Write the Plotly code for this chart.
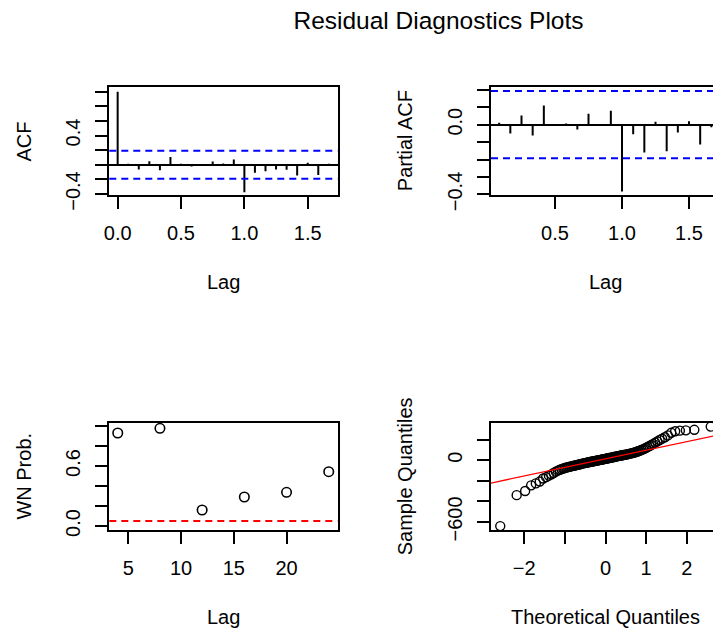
import math
from statistics import NormalDist
import numpy as np
import plotly.graph_objects as go

# ---------------- data ----------------
season_freq = 12
n_obs = 104

acf_lag_index = list(range(0, 21))
acf_values = [1.0, 0.014, -0.064, 0.05, -0.074, 0.106, 0.014, -0.023, -0.018, 0.046,
              0.018, 0.074, -0.375, -0.11, -0.087, -0.064, -0.069, -0.147, 0.028, -0.14, 0.014]

pacf_lag_index = list(range(1, 21))
pacf_values = [0.011, -0.051, 0.053, -0.0625, 0.11, -0.003, 0.006, -0.028, 0.0625, -0.004,
               0.08, -0.383, -0.055, -0.159, 0.017, -0.153, -0.045, 0.019, -0.114, -0.015]

wn_lags = [4, 8, 12, 16, 20, 24]
wn_pvalues = [0.93, 0.977, 0.16, 0.29, 0.337, 0.543]
wn_alpha = 0.05

qq_sample_sorted = [
    -640, -340, -300, -245, -226, -208, -178, -165, -150, -138,
    -125, -112, -102, -94, -88, -82, -77, -72, -68, -64,
    -61, -58, -55, -52, -49, -46, -43, -40, -37, -34,
    -32, -29, -27, -24, -22, -20, -18, -16, -14, -12,
    -10, -8, -6, -4, -2, 0, 2, 4, 6, 8,
    10, 12, 14, 16, 18, 20, 22, 24, 26, 28,
    30, 32, 34, 36, 39, 41, 43, 45, 47, 49,
    51, 53, 55, 58, 60, 63, 65, 68, 71, 75,
    79, 83, 88, 93, 99, 105, 112, 120, 128, 137,
    147, 158, 170, 182, 195, 208, 222, 240, 265, 280,
    286, 289, 294, 325,
]

acf_yticks = [-0.4, -0.2, 0.0, 0.2, 0.4, 0.6, 0.8, 1.0]
acf_ytext = ["\u22120.4", "", "", "", "0.4", "", "", ""]
acf_xticks = [0.0, 0.5, 1.0, 1.5]
acf_xtext = ["0.0", "0.5", "1.0", "1.5"]
pacf_yticks = [-0.4, -0.3, -0.2, -0.1, 0.0, 0.1, 0.2]
pacf_ytext = ["\u22120.4", "", "", "", "0.0", "", ""]
pacf_xticks = [0.5, 1.0, 1.5]
pacf_xtext = ["0.5", "1.0", "1.5"]
wn_yticks = [0.0, 0.2, 0.4, 0.6, 0.8, 1.0]
wn_ytext = ["0.0", "", "", "0.6", "", ""]
wn_xticks = [5, 10, 15, 20]
wn_xtext = ["5", "10", "15", "20"]
qq_yticks = [-600, -400, -200, 0, 200]
qq_ytext = ["\u2212600", "", "", "0", ""]
qq_xticks = [-2, -1, 0, 1, 2]
qq_xtext = ["\u22122", "", "0", "1", "2"]

# ---------------- derived ----------------
ci = 1.96 / math.sqrt(n_obs)
acf_lags = [k / season_freq for k in acf_lag_index]
pacf_lags = [k / season_freq for k in pacf_lag_index]

n_qq = len(qq_sample_sorted)
nd = NormalDist()
qq_theoretical = [nd.inv_cdf((i - 0.5) / n_qq) for i in range(1, n_qq + 1)]
q1, q3 = np.quantile(qq_sample_sorted, [0.25, 0.75])
z1, z3 = nd.inv_cdf(0.25), nd.inv_cdf(0.75)
qq_slope = (q3 - q1) / (z3 - z1)
qq_int = q1 - qq_slope * z1
qq_line_x = [-3.0, 3.0]
qq_line_y = [qq_int + qq_slope * v for v in qq_line_x]


def stems(xs, ys):
    sx, sy = [], []
    for a, b in zip(xs, ys):
        sx += [a, a, None]
        sy += [0, b, None]
    return sx, sy


W, H = 713, 629
FONT = "Liberation Sans, Arial, sans-serif"


def px_x(p):
    return p / W


def px_y(p):
    return 1 - p / H


fig = go.Figure()

ax, ay = stems(acf_lags, acf_values)
fig.add_trace(go.Scatter(x=ax, y=ay, mode="lines", line=dict(color="black", width=2),
                         xaxis="x", yaxis="y", showlegend=False, hoverinfo="skip"))
px_, py_ = stems(pacf_lags, pacf_values)
fig.add_trace(go.Scatter(x=px_, y=py_, mode="lines", line=dict(color="black", width=2),
                         xaxis="x2", yaxis="y2", showlegend=False, hoverinfo="skip"))
fig.add_trace(go.Scatter(x=wn_lags, y=wn_pvalues, mode="markers",
                         marker=dict(symbol="circle-open", size=9.5, color="black", line=dict(width=1.6)),
                         xaxis="x3", yaxis="y3", showlegend=False))
fig.add_trace(go.Scatter(x=qq_theoretical, y=qq_sample_sorted, mode="markers",
                         marker=dict(symbol="circle-open", size=9, color="black", line=dict(width=1.4)),
                         xaxis="x4", yaxis="y4", showlegend=False))
fig.add_trace(go.Scatter(x=qq_line_x, y=qq_line_y, mode="lines", line=dict(color="red", width=1.3),
                         xaxis="x4", yaxis="y4", showlegend=False, hoverinfo="skip"))

# dashed reference lines
for xr, yr in (("x", "y"), ("x2", "y2")):
    for v in (ci, -ci):
        fig.add_shape(type="line", xref=f"{xr} domain", yref=yr, x0=0, x1=1, y0=v, y1=v,
                      line=dict(color="#0000ff", width=2, dash="7px,5px"))
fig.add_shape(type="line", xref="x3 domain", yref="y3", x0=0, x1=1, y0=wn_alpha, y1=wn_alpha,
              line=dict(color="red", width=2, dash="7px,5px"))

base = dict(showgrid=False, showline=True, linecolor="black", linewidth=2,
            ticks="outside", ticklen=12, tickwidth=2, tickcolor="black",
            tickfont=dict(family=FONT, size=20, color="black"), automargin=False)
xbase = dict(base, ticklabelstandoff=7)
ybase = dict(base, ticklabelstandoff=7, tickangle=-90)

dom_xl = [px_x(109.3), px_x(337.5)]
dom_xr = [px_x(491), 1.0]
dom_yt = [px_y(195), px_y(87.3)]
dom_yb = [px_y(530), px_y(422.5)]

layout = dict(
    width=W, height=H, margin=dict(l=0, r=0, t=0, b=0),
    paper_bgcolor="white", plot_bgcolor="white", showlegend=False,
    font=dict(family=FONT, color="black"),
    title=dict(text="Residual Diagnostics Plots", x=px_x(438.5), xanchor="center",
               y=px_y(20), yanchor="middle", font=dict(family=FONT, size=24.5, color="black")),
    xaxis=dict(xbase, domain=dom_xl, anchor="y", range=[-0.066, 1.735], mirror=True,
               tickvals=acf_xticks, ticktext=acf_xtext, zeroline=False),
    yaxis=dict(ybase, domain=dom_yt, anchor="x", range=[-0.413, 1.06], mirror=True,
               tickvals=acf_yticks, ticktext=acf_ytext,
               zeroline=True, zerolinecolor="black", zerolinewidth=2),
    xaxis2=dict(xbase, domain=dom_xr, anchor="y2", range=[0.0224, 1.679], mirror=True,
                tickvals=pacf_xticks, ticktext=pacf_xtext, zeroline=False),
    yaxis2=dict(ybase, domain=dom_yt, anchor="x2", range=[-0.403, 0.214], mirror=False,
                tickvals=pacf_yticks, ticktext=pacf_ytext,
                zeroline=True, zerolinecolor="black", zerolinewidth=2),
    xaxis3=dict(xbase, domain=dom_xl, anchor="y3", range=[3.2, 24.83], mirror=True,
                tickvals=wn_xticks, ticktext=wn_xtext, zeroline=False),
    yaxis3=dict(ybase, domain=dom_yb, anchor="x3", range=[-0.04, 1.035], mirror=True,
                tickvals=wn_yticks, ticktext=wn_ytext, zeroline=False),
    xaxis4=dict(xbase, domain=dom_xr, anchor="y4", range=[-2.817, 2.645], mirror=True,
                tickvals=qq_xticks, ticktext=qq_xtext, zeroline=False),
    yaxis4=dict(ybase, domain=dom_yb, anchor="x4", range=[-678, 365], mirror=False,
                tickvals=qq_yticks, ticktext=qq_ytext, zeroline=False),
)
fig.update_layout(**layout)

labels = [
    ("Lag", 223.4, 281.7, 0), ("Lag", 605.4, 281.7, 0),
    ("Lag", 223.4, 616.7, 0), ("Theoretical Quantiles", 605.4, 616.7, 0),
    ("ACF", 24.3, 141.2, -90), ("Partial ACF", 405, 141.2, -90),
    ("WN Prob.", 24.3, 476.3, -90), ("Sample Quantiles", 405, 476.3, -90),
]
for text, x, y, ang in labels:
    fig.add_annotation(text=text, x=px_x(x), y=px_y(y), xref="paper", yref="paper",
                       xanchor="center", yanchor="middle", showarrow=False, textangle=ang,
                       font=dict(family=FONT, size=20, color="black"))

page_css = ("document.documentElement.style.margin='0';document.body.style.margin='0';"
            "document.documentElement.style.overflow='hidden';document.body.style.overflow='hidden';")
fig.write_html("out.html", post_script=page_css,
               config={"displayModeBar": False, "staticPlot": True})
